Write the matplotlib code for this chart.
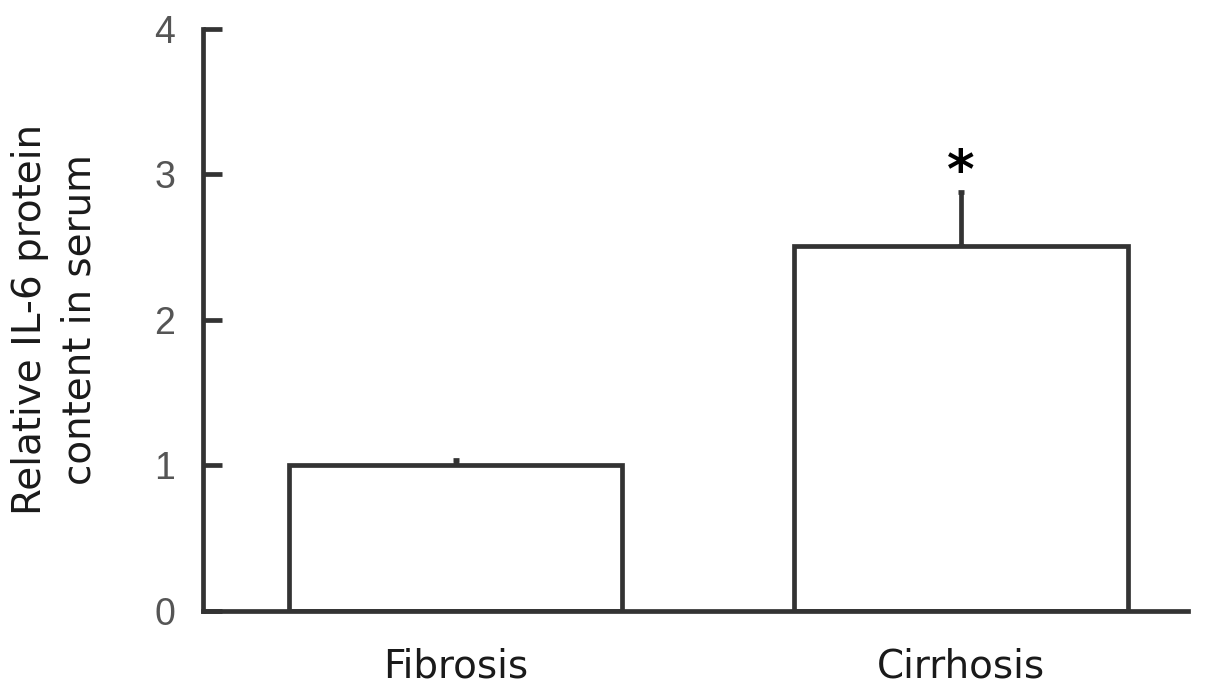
import matplotlib
matplotlib.use('Agg')
import matplotlib.pyplot as plt

groups = ['Fibrosis', 'Cirrhosis']
values = [1.0, 2.51]
errors = [0.04, 0.37]
yticks = [0, 1, 2, 3, 4]

line_col = '#333333'

fig = plt.figure(figsize=(12.05, 6.88), dpi=100)
ax = fig.add_axes([0.1685, 0.112, 0.8175, 0.846])

x = list(range(len(groups)))
ax.bar(x, values, width=0.66, color='white', edgecolor=line_col, linewidth=3.4, zorder=2)
ax.errorbar(x, values, yerr=[[0] * len(errors), errors], fmt='none',
            ecolor=line_col, elinewidth=3.4, capsize=2.5, capthick=3.4, zorder=1)

# significance mark over Cirrhosis
ax.text(1, values[1] + errors[1] + 0.13, '*', ha='center', va='center',
        fontsize=38, fontweight='bold', color='black', family='DejaVu Sans')

ax.set_xlim(-0.5, 1.45)
ax.set_ylim(0, 4)
ax.set_yticks(yticks)
ax.set_yticklabels([str(t) for t in yticks], fontsize=27, color='#555555',
                   family='Liberation Sans')
ax.set_xticks(x)
ax.set_xticklabels(groups, fontsize=28, color='#1a1a1a', family='DejaVu Sans')

ax.tick_params(axis='y', direction='in', length=14, width=3.4, color=line_col, pad=20)
ax.tick_params(axis='x', length=0, pad=26)

for s in ['top', 'right']:
    ax.spines[s].set_visible(False)
for s in ['left', 'bottom']:
    ax.spines[s].set_color(line_col)
    ax.spines[s].set_linewidth(3.4)

ax.set_ylabel('Relative IL-6 protein\ncontent in serum', fontsize=28,
              color='#1a1a1a', family='DejaVu Sans', linespacing=1.4)
ax.yaxis.set_label_coords(-0.106, 0.5)

fig.savefig('out.png', dpi=100)
